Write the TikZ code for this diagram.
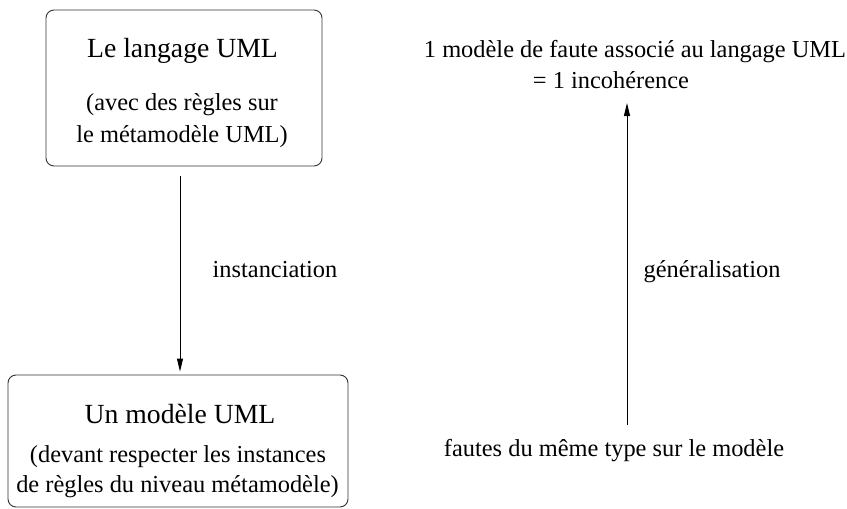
\documentclass[tikz,border=0pt]{standalone}
\usepackage{fontspec}
\setmainfont{Liberation Serif}
\usetikzlibrary{arrows.meta}
\begin{document}
\begin{tikzpicture}[x=1pt,y=-1pt,
  box/.style={draw=black!80,line width=0.9pt,rounded corners=8pt,inner sep=0pt},
  ttl/.style={anchor=base,inner sep=0pt,font=\fontsize{27.7}{33}\selectfont},
  txt/.style={anchor=base,inner sep=0pt,font=\fontsize{24.4}{31}\selectfont},
  arr/.style={draw=black,line width=0.9pt,-{Triangle[length=13pt,width=6pt]}}]
\useasboundingbox (0,0) rectangle (847,509);
% top box
\node[box,minimum width=276pt,minimum height=156pt] (lang) at (184,88) {};
\node[ttl] (langT) at (182.5,57) {Le langage UML};
\node[txt] (langA) at (182,110) {(avec des règles sur};
\node[txt] (langB) at (182,142) {le métamodèle UML)};
% bottom box
\node[box,minimum width=340pt,minimum height=132pt] (model) at (178,441) {};
\node[ttl] (modelT) at (180,423) {Un modèle UML};
\node[txt] (modelA) at (178,462) {(devant respecter les instances};
\node[txt] (modelB) at (177.5,492) {de règles du niveau métamodèle)};
% right side
\node[txt] (faute) at (635,57) {1 modèle de faute associé au langage UML};
\node[txt] (incoh) at (611,88) {= 1 incohérence};
\node[txt] (fautes) at (614,456) {fautes du même type sur le modèle};
% labels
\node[txt] (inst) at (275,277) {instanciation};
\node[txt] (gen) at (712,277) {généralisation};
% arrows
\coordinate (ax) at (180,0);
\coordinate (bx) at (627,0);
\draw[arr] ([yshift=-10pt]lang.south -| ax) -- ([yshift=3pt]model.north -| ax);
\draw[arr] ([yshift=31pt]fautes.base -| bx) -- ([yshift=-15pt]incoh.base -| bx);
\end{tikzpicture}
\end{document}
